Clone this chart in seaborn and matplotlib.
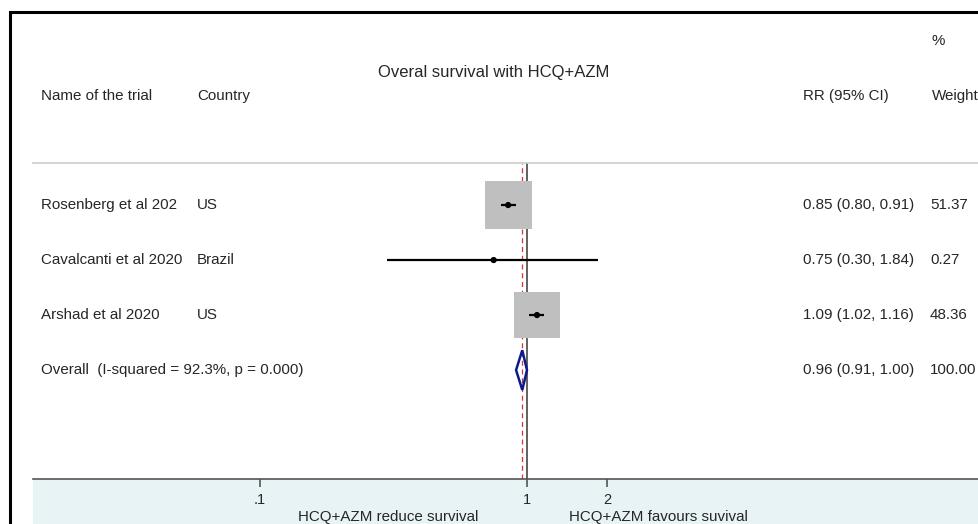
import numpy as np
import pandas as pd
import matplotlib
matplotlib.use("Agg")
import matplotlib.pyplot as plt
import matplotlib.transforms as mtransforms
from matplotlib.patches import Rectangle, Polygon
import seaborn as sns

# data
trials = ["Rosenberg et al 202", "Cavalcanti et al 2020", "Arshad et al 2020"]
countries = ["US", "Brazil", "US"]
rr = [0.85, 0.75, 1.09]
ci_low = [0.80, 0.30, 1.02]
ci_high = [0.91, 1.84, 1.16]
weights = [51.37, 0.27, 48.36]

overall_label = "Overall  (I-squared = 92.3%, p = 0.000)"
overall_rr = 0.96
overall_low = 0.91
overall_high = 1.00

tick_values = [0.1, 1, 2]
tick_labels = [".1", "1", "2"]

df = pd.DataFrame({"trial": trials, "country": countries, "rr": rr,
                   "lo": ci_low, "hi": ci_high, "weight": weights})
df["row"] = np.arange(1, len(df) + 1)
overall_row = len(df) + 1

sns.set_style("white")
plt.rcParams["font.family"] = ["Liberation Sans", "DejaVu Sans"]

W, H = 979, 524
fig = plt.figure(figsize=(W / 100, H / 100), dpi=100)


def fx(x):
    return x / W


def fy(y):
    return 1 - y / H


# outer frame and shaded axis band
fig.patches.append(Rectangle((fx(10), fy(600)), fx(1200), fy(12) - fy(600),
                             transform=fig.transFigure, fill=False,
                             edgecolor="black", lw=2.2, zorder=3))
fig.patches.append(Rectangle((fx(33), 0), fx(979 - 33), fy(479),
                             transform=fig.transFigure, facecolor="#e8f3f5",
                             edgecolor="none", zorder=0))

ax = fig.add_axes([fx(33), fy(479), fx(979 - 33), fy(163) - fy(479)])
ax.set_zorder(2)
ax.set_facecolor("none")
ax.set_xscale("log")
ax.set_xlim(0.01412, 49.3)
ax.set_ylim(5.98, 0.236)

# weight boxes (area proportional to weight)
sns.scatterplot(data=df, x="rr", y="row", size="weight",
                sizes=(min(weights) * 22.5, max(weights) * 22.5),
                size_norm=(min(weights), max(weights)),
                marker="s", color="#bfbfbf", edgecolor="none",
                legend=False, ax=ax, zorder=2)

# confidence intervals and point estimates
ax.hlines(df["row"], df["lo"], df["hi"], color="black", lw=1.6, zorder=3)
sns.scatterplot(data=df, x="rr", y="row", color="black", s=20,
                edgecolor="none", legend=False, ax=ax, zorder=4)

# overall diamond
ax.add_patch(Polygon([(overall_low, overall_row), (overall_rr, overall_row - 0.36),
                      (overall_high, overall_row), (overall_rr, overall_row + 0.36)],
                     closed=True, fill=False, edgecolor="#0a1a8c", lw=1.8, zorder=5))

ax.axvline(1, color="#555555", lw=1.3, zorder=1)
ax.axvline(overall_rr, color="#d9343a", lw=0.9, ls=(0, (4, 3)), zorder=1)

# axes styling
for side in ["left", "right"]:
    ax.spines[side].set_visible(False)
ax.spines["top"].set_color("#cccccc")
ax.spines["top"].set_linewidth(1.2)
ax.spines["bottom"].set_color("#555555")
ax.spines["bottom"].set_linewidth(1.2)
ax.set_yticks([])
ax.set_xticks(tick_values)
ax.set_xticklabels(tick_labels)
ax.xaxis.set_minor_locator(matplotlib.ticker.NullLocator())
ax.tick_params(axis="x", direction="out", length=6, width=1.2, color="#555555",
               labelsize=10.5, pad=4, bottom=True, labelbottom=True)
ax.set_xlabel("")
ax.set_ylabel("")

fs = 10.9
# header texts
fig.text(fx(494), fy(72), "Overal survival with HCQ+AZM", ha="center", va="center", fontsize=12)
fig.text(fx(41), fy(96), "Name of the trial", ha="left", va="center", fontsize=fs)
fig.text(fx(197), fy(96), "Country", ha="left", va="center", fontsize=fs)
fig.text(fx(803), fy(96), "RR (95% CI)", ha="left", va="center", fontsize=fs)
fig.text(fx(932), fy(41), "%", ha="left", va="center", fontsize=fs)
fig.text(fx(932), fy(96), "Weight", ha="left", va="center", fontsize=fs)

# row texts
tr = mtransforms.blended_transform_factory(fig.transFigure, ax.transData)
for _, r in df.iterrows():
    fig.text(fx(41), r["row"], r["trial"], transform=tr, ha="left", va="center", fontsize=fs)
    fig.text(fx(197), r["row"], r["country"], transform=tr, ha="left", va="center", fontsize=fs)
    fig.text(fx(803), r["row"], f"{r['rr']:.2f} ({r['lo']:.2f}, {r['hi']:.2f})",
             transform=tr, ha="left", va="center", fontsize=fs)
    fig.text(fx(930), r["row"], f"{r['weight']:.2f}", transform=tr, ha="left", va="center", fontsize=fs)

fig.text(fx(41), overall_row, overall_label, transform=tr, ha="left", va="center", fontsize=fs)
fig.text(fx(803), overall_row, f"{overall_rr:.2f} ({overall_low:.2f}, {overall_high:.2f})",
         transform=tr, ha="left", va="center", fontsize=fs)
fig.text(fx(930), overall_row, f"{sum(weights):.2f}", transform=tr, ha="left", va="center", fontsize=fs)

# favours labels
fig.text(fx(388), fy(517), "HCQ+AZM reduce survival", ha="center", va="center", fontsize=fs)
fig.text(fx(658), fy(517), "HCQ+AZM favours suvival", ha="center", va="center", fontsize=fs)

fig.savefig("out.png", dpi=100)
